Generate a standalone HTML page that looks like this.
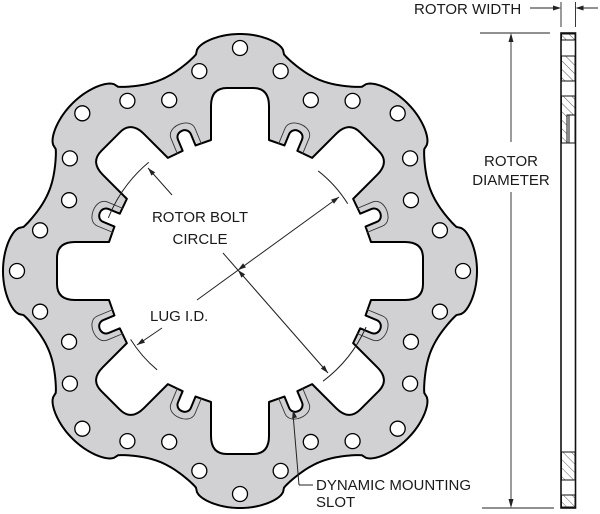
<!DOCTYPE html>
<html><head><meta charset="utf-8">
<style>
html,body{margin:0;padding:0;background:#fff;}
svg{display:block;}
text{font-family:"Liberation Sans",Arial,sans-serif;font-size:15px;fill:#1a1a1a;}
</style></head>
<body>
<svg id="s" width="600" height="514" viewBox="0 0 600 514" xmlns="http://www.w3.org/2000/svg">
<g id="rotor"></g>
<g id="dims" stroke="#222" stroke-width="1" fill="none"></g>
<g id="arrows" fill="#222"></g>
<defs>
<pattern id="h" width="6" height="6" patternUnits="userSpaceOnUse" patternTransform="rotate(-45)">
<line x1="0" y1="0" x2="0" y2="6" stroke="#333" stroke-width="0.8"/>
</pattern>
</defs>
<g stroke="#111" stroke-width="1">
<rect x="561" y="33" width="14.5" height="475" fill="#fff" stroke-width="1.6"/>
<rect x="561.5" y="34" width="13.5" height="6" fill="url(#h)"/>
<rect x="561.5" y="56" width="13.5" height="25" fill="url(#h)"/>
<rect x="561.5" y="96" width="13.5" height="47" fill="url(#h)"/>
<rect x="561.5" y="452" width="13.5" height="28" fill="url(#h)"/>
<rect x="561.5" y="495" width="13.5" height="12" fill="url(#h)"/>
<line x1="561" y1="40" x2="575" y2="40"/><line x1="561" y1="56" x2="575" y2="56"/>
<line x1="561" y1="81" x2="575" y2="81"/><line x1="561" y1="96" x2="575" y2="96"/>
<line x1="561" y1="143" x2="575" y2="143"/><line x1="561" y1="452" x2="575" y2="452"/>
<line x1="561" y1="480" x2="575" y2="480"/><line x1="561" y1="495" x2="575" y2="495"/>
<rect x="567" y="115" width="8" height="28" fill="#fff"/>
<line x1="569" y1="115" x2="569" y2="143"/>
</g>
<g stroke="#222" stroke-width="0.9">
<line x1="561" y1="2" x2="561" y2="27"/><line x1="575.5" y1="2" x2="575.5" y2="27"/>
<line x1="530" y1="8" x2="556" y2="8"/><line x1="580" y1="8" x2="598" y2="8"/>
<line x1="480" y1="33" x2="550" y2="33"/><line x1="482" y1="508" x2="554" y2="508"/>
<line x1="511" y1="38" x2="511" y2="142"/><line x1="511" y1="192" x2="511" y2="503"/>
</g>
<g fill="#222">
<polygon points="561,8 553,5.5 553,10.5"/><polygon points="575.5,8 583.5,5.5 583.5,10.5"/>
<polygon points="511,33 508.5,42 513.5,42"/><polygon points="511,508 508.5,499 513.5,499"/>
</g>
<text x="414" y="14">ROTOR WIDTH</text>
<text x="511" y="166" text-anchor="middle">ROTOR</text>
<text x="511" y="185" text-anchor="middle">DIAMETER</text>
<text x="200" y="222" text-anchor="middle">ROTOR BOLT</text>
<text x="200" y="244" text-anchor="middle">CIRCLE</text>
<text x="150" y="321">LUG I.D.</text>
<text x="316" y="490">DYNAMIC MOUNTING</text>
<text x="316" y="507">SLOT</text>
</svg>
<script>
(function(){
var NS="http://www.w3.org/2000/svg";
var cx=240,cy=271,R=Math.PI/180;
function P(r,d){return [cx+r*Math.cos(d*R),cy-r*Math.sin(d*R)];}
function f(p){return p[0].toFixed(2)+","+p[1].toFixed(2);}
var d="";
for(var i=0;i<720;i++){var t=i/2;var c=Math.cos(8*(t-90)*R);var g=c>0?Math.pow(c,0.45):-Math.pow(-c,0.8);
var r=222+15*g;d+=(i?"L":"M")+f(P(r,t));}
d+="Z";
function UV(a){return [Math.cos(a*R),-Math.sin(a*R)];}
function V(r,u,o,n){return [cx+r*u[0]+o*n[0],cy+r*u[1]+o*n[1]];}
var w=29,di="",slots="";
for(var k=0;k<8;k++){
 var ph=45*k,u=UV(ph),n=UV(ph+90);
 di+=(k?"L":"M")+f(V(131,u,-w,n));
 di+="L"+f(V(165,u,-w,n))+"Q"+f(V(183,u,-w,n))+" "+f(V(183,u,-w+16,n));
 di+="L"+f(V(183,u,w-16,n))+"Q"+f(V(183,u,w,n))+" "+f(V(165,u,w,n));
 di+="L"+f(V(131,u,w,n));
 var ps=ph+22.5,v=UV(ps),m=UV(ps+90);
 di+="L"+f(V(133,v,-7,m))+"L"+f(V(145,v,-7,m))+"C"+f(V(154,v,-7,m))+" "+f(V(154,v,7,m))+" "+f(V(145,v,7,m))+"L"+f(V(133,v,7,m));
 slots+="M"+f(V(132,v,-13,m))+"L"+f(V(149,v,-13,m))+"C"+f(V(162,v,-13,m))+" "+f(V(162,v,13,m))+" "+f(V(149,v,13,m))+"L"+f(V(132,v,13,m));
}
di+="Z";
var g=document.getElementById("rotor");
var p=document.createElementNS(NS,"path");p.setAttribute("d",d+di);p.setAttribute("fill","#d1d1d3");p.setAttribute("fill-rule","evenodd");
p.setAttribute("stroke","#000");p.setAttribute("stroke-width","2");p.setAttribute("stroke-linejoin","round");g.appendChild(p);
var s=document.createElementNS(NS,"path");s.setAttribute("d",slots);s.setAttribute("fill","none");s.setAttribute("stroke","#333");s.setAttribute("stroke-width","0.9");g.appendChild(s);
function hole(r,a){var q=P(r,a);var c=document.createElementNS(NS,"circle");c.setAttribute("cx",q[0]);c.setAttribute("cy",q[1]);c.setAttribute("r",7.5);
c.setAttribute("fill","#fff");c.setAttribute("stroke","#000");c.setAttribute("stroke-width","1.3");g.appendChild(c);}
for(var k=0;k<8;k++){var ph=45*k;hole(223,ph);hole(204,ph-11.5);hole(204,ph+11.5);hole(185,ph+22.5);}
var D=document.getElementById("dims"),A=document.getElementById("arrows");
function line(x1,y1,x2,y2){var l=document.createElementNS(NS,"line");l.setAttribute("x1",x1);l.setAttribute("y1",y1);l.setAttribute("x2",x2);l.setAttribute("y2",y2);D.appendChild(l);}
function arrow(x1,y1,x2,y2){var dx=x2-x1,dy=y2-y1,L=Math.hypot(dx,dy);dx/=L;dy/=L;var bx=x2-8*dx,by=y2-8*dy;
var pg=document.createElementNS(NS,"polygon");pg.setAttribute("points",x2+","+y2+" "+(bx-2.5*dy)+","+(by+2.5*dx)+" "+(bx+2.5*dy)+","+(by-2.5*dx));A.appendChild(pg);}
function arc(r,a1,a2){var p1=P(r,a1),p2=P(r,a2);var pa=document.createElementNS(NS,"path");
pa.setAttribute("d","M"+f(p1)+"A"+r+","+r+" 0 0 "+(a1>a2?1:0)+" "+f(p2));D.appendChild(pa);}
arc(142,130,158);arc(138,-24,-53);
arc(127,52,32);arc(129,-130,-148);
line(197,300,339,197);arrow(197,300,339,197);arrow(339,197,238,270);
line(223,253,328,373);arrow(223,253,328,373);arrow(328,373,238,270);
line(172,195,148,168);arrow(172,195,148,168);
line(162,328,137,345);arrow(162,328,137,345);
line(293,414,299,485);line(299,485,313,485);arrow(299,440,293,410);
})();
</script>
</body></html>
